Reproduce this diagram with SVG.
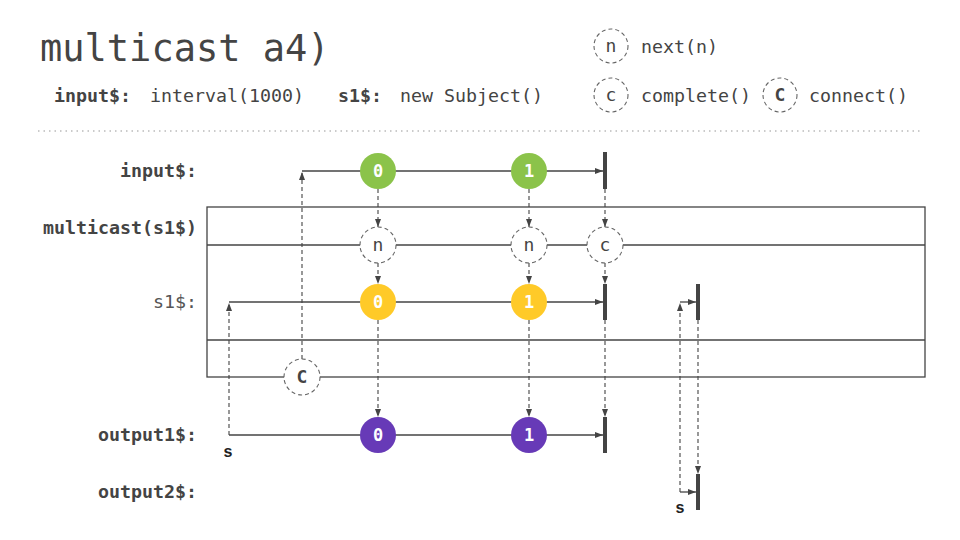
<svg xmlns="http://www.w3.org/2000/svg" width="960" height="540" viewBox="0 0 960 540">
<defs>
<marker id="ah" viewBox="0 0 8 6" refX="8" refY="3" markerWidth="8" markerHeight="6" markerUnits="userSpaceOnUse" orient="auto"><path d="M0,0 L8,3 L0,6 z" fill="#444"/></marker>
<style>
.mono{font-family:"DejaVu Sans Mono","Liberation Mono",monospace;}
.title{font-size:37px;fill:#444;}
.sub{font-size:18.3px;fill:#444;}
.b{font-weight:bold;}
.lbl{font-size:18.3px;fill:#444;text-anchor:end;}
.ln{stroke:#444;stroke-width:1.3;fill:none;}
.dash{stroke:#444;stroke-width:1.1;fill:none;stroke-dasharray:4,3;}
.dc{fill:#fff;stroke:#666;stroke-width:1.1;stroke-dasharray:4,3;}
.ct{font-size:18px;fill:#444;text-anchor:middle;}
.vt{font-size:17px;font-weight:bold;fill:#fff;text-anchor:middle;}
.bar{fill:#444;}
.s{font-family:"Liberation Sans",Arial,sans-serif;font-size:16px;font-weight:bold;fill:#222;text-anchor:middle;}
</style>
</defs>
<rect width="960" height="540" fill="#fff"/>
<g id="header">
<text class="mono title" x="40" y="61">multicast a4)</text>
<text class="mono sub" x="54" y="102"><tspan class="b">input$:</tspan><tspan x="150">interval(1000)</tspan><tspan class="b" x="338">s1$:</tspan><tspan x="400">new Subject()</tspan></text>
<line x1="38" y1="131" x2="920" y2="131" stroke="#bbb" stroke-width="1.5" stroke-dasharray="1.5,4"/>
</g>
<g id="legend">
<circle class="dc" cx="611" cy="46" r="17"/><text class="mono ct" x="611" y="52">n</text>
<text class="mono sub" x="641" y="53">next(n)</text>
<circle class="dc" cx="611" cy="95" r="17"/><text class="mono ct" x="611" y="101">c</text>
<text class="mono sub" x="641" y="102">complete()</text>
<circle class="dc" cx="780" cy="95" r="17"/><text class="mono ct b" x="780" y="101">C</text>
<text class="mono sub" x="809" y="102">connect()</text>
</g>
<g id="labels">
<text class="mono lbl b" x="197" y="177">input$:</text>
<text class="mono lbl b" x="197" y="234">multicast(s1$)</text>
<text class="mono lbl" x="197" y="308" style="fill:#555">s1$:</text>
<text class="mono lbl b" x="197" y="441">output1$:</text>
<text class="mono lbl b" x="197" y="498">output2$:</text>
</g>
<g id="multicast-box">
<rect x="207" y="207" width="718" height="170" fill="none" stroke="#444" stroke-width="1.3"/>
<line class="ln" x1="207" y1="245" x2="925" y2="245"/>
<line class="ln" x1="207" y1="340" x2="925" y2="340"/>
</g>
<g id="connectors">
<line class="ln" x1="302" y1="171" x2="603" y2="171" marker-end="url(#ah)"/>
<line class="ln" x1="229" y1="302" x2="603" y2="302" marker-end="url(#ah)"/>
<line class="ln" x1="229" y1="435" x2="603" y2="435" marker-end="url(#ah)"/>
<line class="ln" x1="680" y1="302" x2="696" y2="302" marker-end="url(#ah)"/>
<line class="ln" x1="680" y1="492" x2="696" y2="492" marker-end="url(#ah)"/>
<line class="dash" x1="302" y1="359" x2="302" y2="172" marker-end="url(#ah)"/>
<line class="dash" x1="229" y1="435" x2="229" y2="303" marker-end="url(#ah)"/>
<line class="dash" x1="680" y1="492" x2="680" y2="303" marker-end="url(#ah)"/>
<line class="dash" x1="378" y1="189" x2="378" y2="227" marker-end="url(#ah)"/>
<line class="dash" x1="378" y1="263" x2="378" y2="284" marker-end="url(#ah)"/>
<line class="dash" x1="378" y1="320" x2="378" y2="417" marker-end="url(#ah)"/>
<line class="dash" x1="529" y1="189" x2="529" y2="227" marker-end="url(#ah)"/>
<line class="dash" x1="529" y1="263" x2="529" y2="284" marker-end="url(#ah)"/>
<line class="dash" x1="529" y1="320" x2="529" y2="417" marker-end="url(#ah)"/>
<line class="dash" x1="605" y1="189" x2="605" y2="227" marker-end="url(#ah)"/>
<line class="dash" x1="605" y1="263" x2="605" y2="284" marker-end="url(#ah)"/>
<line class="dash" x1="605" y1="320" x2="605" y2="417" marker-end="url(#ah)"/>
<line class="dash" x1="698" y1="320" x2="698" y2="474" marker-end="url(#ah)"/>
</g>
<g id="input-0"><circle cx="378" cy="171" r="18" fill="#8bc34a"/><text class="mono vt" x="378" y="177">0</text></g>
<g id="input-1"><circle cx="529" cy="171" r="18" fill="#8bc34a"/><text class="mono vt" x="529" y="177">1</text></g>
<g id="input-end"><rect class="bar" x="603" y="152" width="4" height="37"/></g>
<g id="mc-n0"><circle class="dc" cx="378" cy="245" r="18"/><text class="mono ct" x="378" y="251">n</text></g>
<g id="mc-n1"><circle class="dc" cx="529" cy="245" r="18"/><text class="mono ct" x="529" y="251">n</text></g>
<g id="mc-c"><circle class="dc" cx="605" cy="245" r="18"/><text class="mono ct" x="605" y="251">c</text></g>
<g id="s1-0"><circle cx="378" cy="302" r="18" fill="#ffca28"/><text class="mono vt" x="378" y="308">0</text></g>
<g id="s1-1"><circle cx="529" cy="302" r="18" fill="#ffca28"/><text class="mono vt" x="529" y="308">1</text></g>
<g id="s1-end"><rect class="bar" x="603" y="284" width="4" height="36"/></g>
<g id="s1-end2"><rect class="bar" x="696" y="284" width="4" height="36"/></g>
<g id="connect"><circle class="dc" cx="302" cy="377" r="18"/><text class="mono ct b" x="302" y="383">C</text></g>
<g id="out1-0"><circle cx="378" cy="435" r="18" fill="#673ab7"/><text class="mono vt" x="378" y="441">0</text></g>
<g id="out1-1"><circle cx="529" cy="435" r="18" fill="#673ab7"/><text class="mono vt" x="529" y="441">1</text></g>
<g id="out1-end"><rect class="bar" x="603" y="417" width="4" height="36"/></g>
<g id="out2-end"><rect class="bar" x="696" y="474" width="4" height="36"/></g>
<g id="subs">
<text class="s" x="228" y="457">s</text>
<text class="s" x="680" y="513">s</text>
</g>
</svg>
